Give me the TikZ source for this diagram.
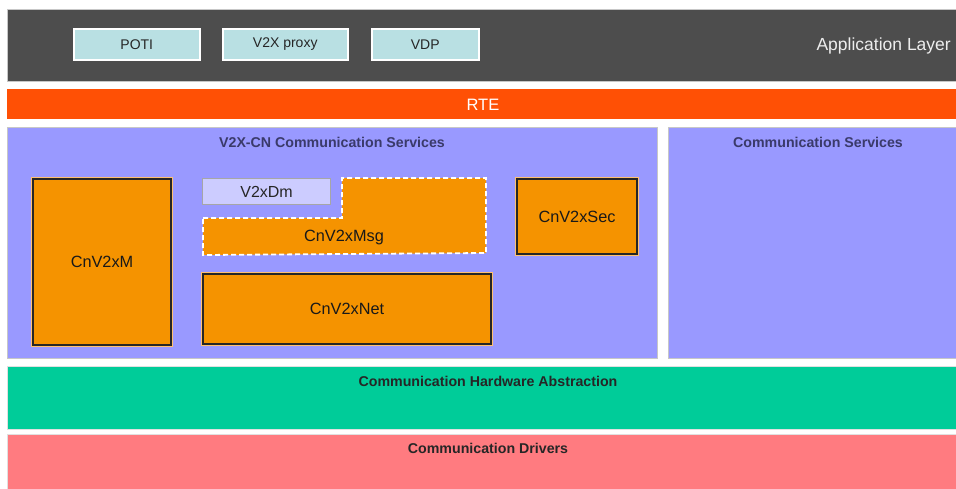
\documentclass[tikz,border=0pt]{standalone}
\usepackage{fontspec}
\setmainfont{Liberation Sans}
\definecolor{appgray}{HTML}{4D4D4D}
\definecolor{appbox}{HTML}{B9E0E3}
\definecolor{rte}{HTML}{FF5005}
\definecolor{lav}{HTML}{9999FF}
\definecolor{lavlight}{HTML}{CCCCFF}
\definecolor{org}{HTML}{F59300}
\definecolor{orgedge}{HTML}{FFC070}
\definecolor{orgshadow}{HTML}{7A4800}
\definecolor{hwgreen}{HTML}{00CC99}
\definecolor{drvpink}{HTML}{FF7B80}
\definecolor{titleblue}{HTML}{3A3A6A}
\tikzset{
  layer/.style={anchor=north west, inner sep=0pt, draw=black!22, line width=0.8pt},
  appmod/.style={layer, fill=appbox, draw=white, line width=1.5pt, font=\fontsize{14}{16}\selectfont, text=black!85},
  modbox/.style={anchor=north west, inner sep=0pt, fill=org, draw=black!85, line width=2pt,
     font=\fontsize{16.3}{18}\selectfont, text=black!90,
     preaction={draw=orgedge, line width=3.5pt}},
  ttl/.style={font=\bfseries\fontsize{14.2}{16}\selectfont, text=titleblue},
  btl/.style={font=\bfseries\fontsize{14.2}{16}\selectfont, text=black!85},
}
\begin{document}
\begin{tikzpicture}[x=1pt,y=-1pt]
\useasboundingbox (0,0) rectangle (956,488);
% application layer
\node[layer, fill=appgray, minimum width=951pt, minimum height=72pt] (app) at (7,9) {};
\node[anchor=east, inner sep=0pt, text=white!93!black, font=\fontsize{17.5}{19}\selectfont] (applbl) at (951,46) {Application Layer};
\node[appmod, minimum width=126pt, minimum height=31pt] (poti) at (73,28) {POTI};
\node[appmod, minimum width=125pt, minimum height=31pt] (proxy) at (222,28) {V2X proxy};
\node[appmod, minimum width=107pt, minimum height=31pt] (vdp) at (371,28) {VDP};
% RTE
\node[layer, fill=rte, draw=none, minimum width=951pt, minimum height=30pt, text=white, font=\fontsize{16.5}{18}\selectfont] (rtebar) at (7,89) {RTE};
% V2X-CN communication services
\node[layer, fill=lav, minimum width=650pt, minimum height=231pt] (cn) at (7,127) {};
\node[ttl] (cnttl) at (332,142) {V2X-CN Communication Services};
\node[layer, fill=lav, minimum width=290pt, minimum height=231pt] (cs) at (668,127) {};
\node[ttl] (csttl) at (818,142) {Communication Services};
% modules
\fill[orgshadow] (35,181) rectangle (173,347);
\node[modbox, minimum width=138pt, minimum height=166pt] (m) at (32,178) {CnV2xM};
\fill[orgshadow] (205,276) rectangle (493,346);
\node[modbox, minimum width=288pt, minimum height=70pt] (net) at (202,273) {CnV2xNet};
\fill[orgshadow] (519,181) rectangle (639,256);
\node[modbox, minimum width=120pt, minimum height=75pt] (sec) at (516,178) {CnV2xSec};
\node[anchor=north west, inner sep=0pt, fill=lavlight, draw=black!35, line width=1.2pt,
      minimum width=128pt, minimum height=26pt, font=\fontsize{16}{18}\selectfont, text=black!85] (dm) at (202,178) {V2xDm};
\fill[org] (203,218) -- (342,218) -- (342,178) -- (486,178) -- (486,253) -- (203,255) -- cycle;
\draw[white, line width=1.8pt, dash pattern=on 5pt off 3pt] (203,218) -- (342,218) -- (342,178) -- (486,178) -- (486,253) -- (203,255) -- cycle;
\node[font=\fontsize{16.3}{18}\selectfont, text=black!90] (msg) at (344,237) {CnV2xMsg};
% hardware abstraction
\node[layer, fill=hwgreen, draw=black!12, minimum width=951pt, minimum height=63pt] (hw) at (7,366) {};
\node[btl] (hwttl) at (488,381) {Communication Hardware Abstraction};
% drivers
\node[layer, fill=drvpink, draw=black!12, minimum width=951pt, minimum height=56pt] (drv) at (7,434) {};
\node[btl] (drvttl) at (488,448) {Communication Drivers};
\end{tikzpicture}
\end{document}
